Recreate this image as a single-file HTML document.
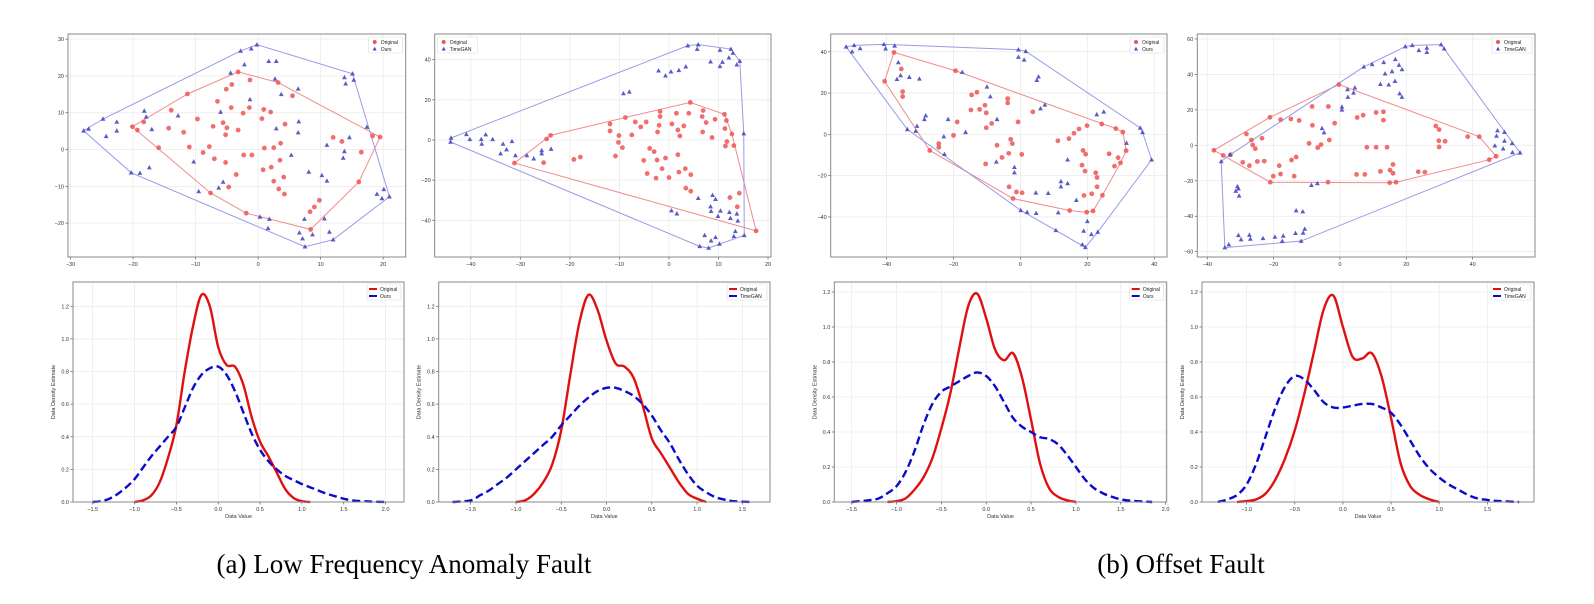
<!DOCTYPE html>
<html><head><meta charset="utf-8"><style>
html,body{margin:0;padding:0;background:#fff;}
svg{display:block;}
text{font-family:"Liberation Sans",sans-serif;}
</style></head>
<body>
<svg id="fig" width="1594" height="604" viewBox="0 0 1594 604" xmlns="http://www.w3.org/2000/svg">
<text x="404" y="573" text-anchor="middle" style="font-family:'Liberation Serif',serif;font-size:27px" fill="#000">(a) Low Frequency Anomaly Fault</text>
<text x="1181" y="573" text-anchor="middle" style="font-family:'Liberation Serif',serif;font-size:27px" fill="#000">(b) Offset Fault</text>
</svg>
<script>
// ---------- Scatter data (t-SNE style) ----------
const p1OrigX=[-3.2,-1.3,3.2,5.5,-11.3,-13.9,-20.1,-19.3,-18.3,-5.1,-4.2,-6.5,-4.3,-1.4,-2.4,0.9,2.0,-9.7,-5.6,-7.2,-14.3,-11.9,-5.0,-3.2,0.6,4.3,-15.9,-11.0,-7.8,-8.8,-7.0,-5.2,-5.2,-2.3,-1.0,1.0,2.5,3.6,3.5,0.8,2.1,2.5,4.1,3.3,4.2,-4.7,-3.5,-7.6,-1.9,12.0,13.4,16.5,18.3,19.5,16.1,9.8,9.0,8.3,8.4];
const p1OrigY=[21.1,18.9,18.2,14.6,15.1,10.7,6.2,5.3,7.5,16.4,17.7,13.1,11.4,11.4,9.9,10.9,10.2,8.3,7.3,6.3,5.8,4.7,5.9,5.3,8.4,6.9,0.5,0.7,0.8,-0.8,-2.5,4.0,-3.5,-1.5,-1.5,0.4,0.5,1.7,-2.9,-5.5,-4.8,-8.6,-7.5,-10.7,-12.1,-10.2,-6.8,-11.8,-17.3,3.3,2.2,-0.7,3.7,3.4,-8.8,-13.8,-15.6,-16.9,-21.7];
const p1GenX=[-0.2,-1.1,-2.8,-2.2,-4.4,1.7,2.9,2.7,3.7,6.4,6.5,6.4,2.9,15.1,13.8,14.0,15.3,17.4,14.6,11.0,13.8,13.6,5.3,8.1,10.2,11.0,19.0,20.1,19.8,21.0,-1.3,-6.0,-12.8,-17.9,-18.2,-22.6,-22.6,-24.8,-27.1,-27.9,-24.3,-17.0,-10.3,-9.5,-17.4,-20.3,-18.9,-5.6,-6.3,1.8,0.3,1.6,7.4,6.6,7.1,8.7,7.5,10.6,11.4,12.0];
const p1GenY=[28.5,27.4,26.8,23.1,20.8,24.0,24.0,19.2,15.0,16.5,7.6,4.6,5.7,20.6,19.6,17.9,18.9,6.1,3.3,1.2,-0.5,-2.3,-1.5,-6.1,-7.0,-8.5,-12.1,-10.8,-13.3,-12.8,13.6,10.2,9.2,8.9,10.5,7.5,5.1,8.3,5.6,5.1,3.6,5.5,-3.3,-11.4,-4.9,-6.3,-6.4,-8.8,-10.4,-18.9,-18.3,-21.4,-18.9,-22.6,-24.2,-23.1,-26.4,-18.8,-22.4,-24.5];

const p2OrigX=[4.3,11.2,11.6,12.7,13.1,11.4,11.7,11.3,9.3,7.5,6.7,6.9,4.0,1.5,0.6,3.0,1.8,2.2,6.8,8.7,-1.8,-1.8,-2.0,-2.3,-8.8,-6.8,-7.5,-5.7,-4.6,-11.9,-11.9,-10.1,-10.2,-9.4,-10.8,-3.9,-3.0,-5.1,-2.4,-0.7,1.8,-4.4,-2.6,-1.4,0.0,2.0,3.3,4.4,3.4,4.4,12.3,14.2,13.8,17.6,-17.9,-19.2,-23.9,-24.7,-25.3,-31.2];
const p2OrigY=[18.7,12.8,9.7,3.0,-2.8,-3.0,-0.8,5.7,10.3,8.7,11.7,14.7,13.3,13.3,8.0,7.0,5.0,2.0,4.0,1.2,14.2,11.7,7.3,4.0,11.2,9.0,2.5,6.5,9.0,8.0,4.5,2.2,-1.2,-3.8,-8.0,-4.2,-5.8,-10.2,-10.0,-9.0,-7.3,-16.7,-19.0,-14.3,-18.7,-16.0,-14.3,-17.3,-24.0,-25.5,-28.7,-26.5,-33.3,-45.3,-8.5,-9.7,2.3,0.5,-11.3,-11.5];
const p2GenX=[3.8,5.9,5.7,10.3,12.5,12.9,12.1,14.3,13.7,10.8,10.3,8.4,3.4,2.0,0.4,-0.7,-2.1,-8.0,-9.2,15.1,15.2,13.4,13.1,10.2,9.4,8.5,7.2,6.2,8.0,13.7,13.9,12.4,10.4,9.9,8.5,8.4,9.4,8.8,12.2,5.9,1.6,0.5,-40.9,-40.2,-44.0,-44.1,-37.9,-37.0,-35.6,-37.8,-33.5,-34.0,-32.8,-31.7,-31.0,-28.7,-27.3,-25.7,-25.7,-23.8];
const p2GenY=[47.0,47.5,45.3,44.8,45.3,43.3,41.0,39.3,37.5,38.8,36.7,39.0,36.5,34.7,34.0,32.0,34.5,24.0,23.2,3.2,-47.5,-45.5,-48.0,-51.8,-48.5,-50.2,-47.5,-53.0,-53.8,-36.8,-40.3,-39.0,-35.3,-38.0,-35.5,-33.2,-29.5,-27.5,-36.0,-29.0,-36.7,-35.2,2.8,0.3,1.0,-1.0,0.3,2.7,0.3,-2.0,-2.0,-6.8,-4.8,-0.7,-7.7,-7.7,-9.3,-5.2,-6.8,-4.5];

const p3OrigX=[-37.8,-40.6,-35.6,-35.2,-35.2,-19.4,-14.6,-13.0,-14.8,-12.2,-10.6,-10.2,-8.6,-10.2,-18.9,-20.0,-24.4,-24.4,-27.1,-10.4,-7.0,-3.8,-3.8,-2.9,-2.4,-0.7,-3.5,-5.5,0.4,-3.4,-1.2,0.5,-2.2,3.7,11.2,14.5,16.0,17.5,19.9,24.3,28.5,30.6,31.6,29.9,29.2,28.1,26.5,18.7,19.5,18.4,19.3,22.5,22.9,22.9,24.5,21.3,19.0,19.8,21.7,14.7];
const p3OrigY=[39.7,25.7,31.7,20.7,18.3,30.8,19.1,20.4,11.8,12.1,14.1,10.4,5.3,3.2,6.0,-0.5,-4.5,-6.3,-7.8,-14.3,-5.3,17.3,15.2,-2.4,-4.5,6.0,-9.2,-11.2,-9.7,-25.4,-27.9,-28.3,-31.1,10.9,-3.1,-2.1,0.5,2.6,4.2,5.0,2.8,1.1,-7.9,-13.8,-11.3,-15.4,-9.4,-7.8,-9.6,-14.9,-17.8,-18.6,-20.9,-25.4,-29.5,-28.8,-29.6,-37.7,-37.1,-36.9];
const p3GenX=[-52.1,-49.7,-47.9,-50.3,-40.8,-40.3,-37.6,-36.5,-35.8,-36.9,-33.2,-30.2,-0.6,1.6,-0.6,1.1,5.4,4.9,-17.4,-10.0,-9.0,-7.0,7.3,6.0,22.8,24.9,35.8,36.5,31.7,39.2,-21.6,-28.7,-28.3,-30.9,-31.3,-33.8,-22.9,-16.4,-22.7,-7.2,-1.8,-1.8,12.1,14.1,12.1,14.1,4.6,8.3,16.7,0.1,2.0,4.7,11.3,10.6,20.0,18.9,23.1,21.2,18.5,19.4];
const p3GenY=[42.4,43.1,41.6,40.0,43.6,41.5,42.9,34.8,28.5,26.7,27.7,26.9,41.0,40.2,37.4,36.1,27.9,26.2,30.1,23.0,18.3,7.3,14.3,12.5,9.6,10.9,3.1,1.0,-4.2,-12.3,7.3,7.3,9.1,4.0,1.6,2.4,-1.1,1.0,-9.6,-13.3,-15.9,-18.5,-22.8,-23.8,-25.3,-12.3,-28.3,-28.5,-31.9,-36.8,-37.7,-38.2,-37.9,-46.5,-42.1,-46.8,-47.3,-48.4,-53.4,-54.7];

const p4OrigX=[-0.3,-8.4,-3.5,-21.1,-17.9,-14.8,-12.3,-8.3,-1.6,5.2,7.0,10.9,13.1,13.1,-28.2,-26.7,-26.3,-25.5,-23.5,-38.0,-35.2,-33.0,-29.3,-27.3,-24.9,-22.8,-9.3,-6.7,-5.7,-3.2,-14.6,-13.2,-18.3,-17.9,-20.1,-21.0,-13.8,-3.6,5.0,7.5,8.1,10.9,14.2,12.2,15.1,16.0,16.0,15.0,16.9,23.6,25.6,28.9,29.9,29.8,29.9,31.7,38.5,42.0,45.0,47.1];
const p4OrigY=[34.3,21.9,21.9,15.8,14.5,14.9,14.0,11.3,12.5,15.7,17.0,18.5,18.9,14.2,6.4,3.0,0.2,-1.9,4.0,-2.8,-5.7,-5.3,-9.6,-11.5,-9.1,-8.9,1.1,-1.3,0.4,3.0,-8.3,-6.6,-11.5,-16.2,-17.4,-20.8,-17.4,-20.8,-16.4,-16.4,-1.1,-1.1,-1.1,-14.7,-14.0,-10.8,-15.8,-21.1,-20.8,-14.9,-15.1,10.9,8.9,2.6,-0.9,2.3,4.9,4.9,-8.1,-6.2];
const p4GenX=[19.7,21.8,23.8,26.2,26.2,30.5,31.4,7.2,9.7,13.2,16.7,17.8,18.7,15.7,13.6,12.2,14.7,16.6,18.0,18.7,2.3,4.5,4.1,2.4,0.6,0.6,-5.4,-4.8,47.5,47.2,49.6,46.7,49.6,51.9,49.2,52.0,54.3,-35.8,-33.1,-30.6,-31.4,-30.4,-30.9,-13.2,-11.2,-8.6,-6.8,-30.6,-29.8,-27.3,-27.0,-23.2,-19.6,-17.1,-17.4,-13.4,-11.1,-10.6,-11.7,-34.7,-33.5];
const p4GenY=[55.7,56.4,53.6,54.9,52.5,56.8,54.5,44.3,45.7,46.8,48.5,45.3,42.8,41.7,40.4,34.5,34.2,36.2,29.2,27.2,31.5,32.5,29.6,27.2,21.7,20.0,9.6,7.2,8.3,5.3,7.4,-0.2,2.5,1.1,-1.9,-4.0,-4.2,-9.1,-5.3,-24.5,-25.8,-28.5,-23.2,-36.8,-37.4,-22.5,-21.5,-50.8,-53.2,-50.6,-52.8,-52.5,-51.7,-51.1,-54.0,-49.6,-49.4,-47.2,-54.0,-57.7,-56.0];

// ---------- Scatter tick labels ----------
const p1XTicks=[-30,-20,-10,0,10,20], p1YTicks=[-20,-10,0,10,20,30];
const p2XTicks=[-40,-30,-20,-10,0,10,20], p2YTicks=[-40,-20,0,20,40];
const p3XTicks=[-40,-20,0,20,40], p3YTicks=[-40,-20,0,20,40];
const p4XTicks=[-40,-20,0,20,40], p4YTicks=[-60,-40,-20,0,20,40,60];

// ---------- KDE data ----------
const k1OrigX=[-1.0,-0.9,-0.8,-0.7,-0.6,-0.5,-0.4,-0.3,-0.2,-0.1,0.0,0.1,0.2,0.3,0.4,0.5,0.6,0.7,0.8,0.9,1.0,1.1];
const k1OrigY=[0.0,0.01,0.04,0.12,0.27,0.47,0.80,1.08,1.27,1.20,0.95,0.84,0.83,0.72,0.52,0.37,0.28,0.18,0.08,0.025,0.005,0.0];
const k1GenX=[-1.5,-1.4,-1.3,-1.2,-1.1,-1.0,-0.9,-0.8,-0.7,-0.6,-0.5,-0.4,-0.3,-0.2,-0.1,0.0,0.1,0.2,0.3,0.4,0.5,0.6,0.7,0.8,0.9,1.0,1.1,1.2,1.3,1.4,1.5,1.6,1.8,2.0];
const k1GenY=[0.0,0.005,0.02,0.05,0.09,0.14,0.21,0.28,0.34,0.40,0.46,0.58,0.70,0.78,0.82,0.83,0.78,0.68,0.55,0.42,0.32,0.25,0.20,0.16,0.135,0.11,0.09,0.07,0.05,0.035,0.02,0.01,0.003,0.0];
const k2OrigX=k1OrigX;
const k2OrigY=[0.0,0.01,0.05,0.12,0.23,0.44,0.78,1.10,1.27,1.18,0.99,0.85,0.83,0.76,0.59,0.39,0.30,0.21,0.12,0.05,0.02,0.0];
const k2GenX=[-1.7,-1.5,-1.4,-1.3,-1.2,-1.1,-1.0,-0.9,-0.8,-0.7,-0.6,-0.5,-0.4,-0.3,-0.2,-0.1,0.0,0.1,0.2,0.3,0.4,0.5,0.6,0.7,0.8,0.9,1.0,1.1,1.2,1.3,1.4,1.6];
const k2GenY=[0.0,0.01,0.04,0.07,0.11,0.15,0.20,0.25,0.30,0.35,0.40,0.47,0.53,0.59,0.64,0.68,0.70,0.70,0.68,0.65,0.60,0.53,0.44,0.36,0.26,0.17,0.10,0.06,0.03,0.015,0.005,0.0];
const k3OrigX=[-1.1,-1.0,-0.9,-0.8,-0.7,-0.6,-0.5,-0.4,-0.3,-0.2,-0.1,0.0,0.1,0.2,0.3,0.4,0.5,0.6,0.7,0.8,0.9,1.0];
const k3OrigY=[0.0,0.005,0.02,0.07,0.14,0.25,0.42,0.62,0.88,1.12,1.19,1.05,0.87,0.81,0.85,0.71,0.47,0.22,0.08,0.03,0.01,0.0];
const k3GenX=[-1.5,-1.4,-1.3,-1.2,-1.1,-1.0,-0.9,-0.8,-0.7,-0.6,-0.5,-0.4,-0.3,-0.2,-0.1,0.0,0.1,0.2,0.3,0.4,0.5,0.6,0.7,0.8,0.9,1.0,1.1,1.2,1.3,1.4,1.5,1.6,1.7,1.85];
const k3GenY=[0.0,0.005,0.01,0.02,0.05,0.09,0.17,0.29,0.44,0.56,0.63,0.66,0.69,0.72,0.74,0.72,0.66,0.57,0.48,0.43,0.40,0.37,0.36,0.33,0.27,0.20,0.13,0.08,0.05,0.03,0.015,0.008,0.004,0.0];
const k4OrigX=k3OrigX;
const k4OrigY=[0.0,0.005,0.015,0.05,0.13,0.25,0.41,0.62,0.86,1.10,1.18,1.00,0.83,0.82,0.85,0.72,0.48,0.22,0.09,0.04,0.015,0.0];
const k4GenX=[-1.3,-1.2,-1.1,-1.0,-0.9,-0.8,-0.7,-0.6,-0.5,-0.4,-0.3,-0.2,-0.1,0.0,0.1,0.2,0.3,0.4,0.5,0.6,0.7,0.8,0.9,1.0,1.1,1.2,1.3,1.4,1.5,1.6,1.83];
const k4GenY=[0.0,0.015,0.04,0.10,0.22,0.38,0.54,0.66,0.72,0.70,0.64,0.57,0.54,0.54,0.55,0.56,0.56,0.54,0.51,0.44,0.35,0.26,0.19,0.14,0.10,0.07,0.04,0.02,0.012,0.006,0.0];
const kYTicks=[0.0,0.2,0.4,0.6,0.8,1.0,1.2];
const k1XTicks=[-1.5,-1.0,-0.5,0.0,0.5,1.0,1.5,2.0];
const k2XTicks=[-1.5,-1.0,-0.5,0.0,0.5,1.0,1.5];
const k3XTicks=[-1.5,-1.0,-0.5,0.0,0.5,1.0,1.5,2.0];
const k4XTicks=[-1.0,-0.5,0.0,0.5,1.0,1.5];

const NS='http://www.w3.org/2000/svg';
const fig=document.getElementById('fig');
function mk(tag,attrs,parent){const e=document.createElementNS(NS,tag);for(const k in attrs)e.setAttribute(k,attrs[k]);(parent||fig).appendChild(e);return e;}
function fmt(v,dec){const s=v.toFixed(dec);return v<0?'\u2212'+s.slice(1):s;}

function axesFrame(name,L,R,T,B,xmin,xmax,ymin,ymax,xt,yt,dec){
  const g=mk('g',{});
  
  
  const sx=v=>L+(v-xmin)/(xmax-xmin)*(R-L);
  const sy=v=>B-(v-ymin)/(ymax-ymin)*(B-T);
  xt.forEach(v=>{
    mk('line',{x1:sx(v),x2:sx(v),y1:T,y2:B,stroke:'#ebebeb','stroke-width':0.8},g);
    mk('line',{x1:sx(v),x2:sx(v),y1:B,y2:B+2.5,stroke:'#555','stroke-width':0.7},g);
    const t=mk('text',{x:sx(v),y:B+9,'text-anchor':'middle','font-size':5.5,fill:'#333'},g);
    t.textContent=fmt(v,dec);
    
    
  });
  yt.forEach(v=>{
    mk('line',{x1:L,x2:R,y1:sy(v),y2:sy(v),stroke:'#ebebeb','stroke-width':0.8},g);
    mk('line',{x1:L-2.5,x2:L,y1:sy(v),y2:sy(v),stroke:'#555','stroke-width':0.7},g);
    const t=mk('text',{x:L-4,y:sy(v)+2,'text-anchor':'end','font-size':5.5,fill:'#333'},g);
    t.textContent=fmt(v,dec===0?0:1);
    
    
  });
  return {g,sx,sy};
}
function frameRect(g,L,R,T,B){mk('rect',{x:L,y:T,width:R-L,height:B-T,fill:'none',stroke:'#888','stroke-width':1},g);}

function hull(xs,ys){
  const pts=xs.map((x,i)=>[x,ys[i]]).sort((a,b)=>a[0]-b[0]||a[1]-b[1]);
  const cr=(o,a,b)=>(a[0]-o[0])*(b[1]-o[1])-(a[1]-o[1])*(b[0]-o[0]);
  const lo=[],up=[];
  for(const p of pts){while(lo.length>=2&&cr(lo[lo.length-2],lo[lo.length-1],p)<=0)lo.pop();lo.push(p);}
  for(let i=pts.length-1;i>=0;i--){const p=pts[i];while(up.length>=2&&cr(up[up.length-2],up[up.length-1],p)<=0)up.pop();up.push(p);}
  up.pop();lo.pop();return lo.concat(up);
}

function scatterPanel(name,L,R,T,B,xr,yr,xt,yt,ox,oy,gx,gy,genName,legendLeft){
  const a=axesFrame(name,L,R,T,B,xr[0],xr[1],yr[0],yr[1],xt,yt,0);
  const g=a.g;
  const hO=hull(ox,oy), hG=hull(gx,gy);
  const ph=mk('polygon',{points:hO.map(p=>a.sx(p[0])+','+a.sy(p[1])).join(' '),fill:'none',stroke:'#f08c8c','stroke-width':1},g);
  
  
  const gh=mk('polygon',{points:hG.map(p=>a.sx(p[0])+','+a.sy(p[1])).join(' '),fill:'none',stroke:'#9a9ae6','stroke-width':1},g);
  
  
  ox.forEach((x,i)=>{
    const c=mk('circle',{cx:a.sx(x),cy:a.sy(oy[i]),r:2.4,fill:'#ee5555','fill-opacity':0.85},g);
    
    
  });
  gx.forEach((x,i)=>{
    const X=a.sx(x),Y=a.sy(gy[i]);
    const p=mk('polygon',{points:`${X},${Y-2.6} ${X-2.4},${Y+1.8} ${X+2.4},${Y+1.8}`,fill:'#4a4ac0','fill-opacity':0.9},g);
    
    
  });
  frameRect(g,L,R,T,B);
  const lw=genName.length>5?40:34;
  const lx=legendLeft?L+3:R-lw-3, ly=T+3;
  const lg=mk('g',{},g);
  
  
  mk('rect',{x:lx,y:ly,width:lw,height:16,fill:'#fff','fill-opacity':0.85,stroke:'#ddd','stroke-width':0.6,rx:1},lg);
  mk('circle',{cx:lx+6,cy:ly+5,r:2,fill:'#ee5555'},lg);
  const X=lx+6,Y=ly+12;
  mk('polygon',{points:`${X},${Y-2.2} ${X-2},${Y+1.5} ${X+2},${Y+1.5}`,fill:'#4a4ac0'},lg);
  const t1=mk('text',{x:lx+12,y:ly+7,'font-size':5,fill:'#222'},lg);t1.textContent='Original';
  
  
  const t2=mk('text',{x:lx+12,y:ly+14,'font-size':5,fill:'#222'},lg);t2.textContent=genName;
  
  
}

function kdePanel(name,L,R,T,B,xr,yr,xt,ox,oy,gx,gy,genName){
  const a=axesFrame(name,L,R,T,B,xr[0],xr[1],yr[0],yr[1],xt,kYTicks,1);
  const g=a.g;
  function path(xs,ys){
    const P=xs.map((x,i)=>[a.sx(x),a.sy(ys[i])]);
    let d='M'+P[0][0]+','+P[0][1];
    for(let i=0;i<P.length-1;i++){
      const p0=P[Math.max(0,i-1)],p1=P[i],p2=P[i+1],p3=P[Math.min(P.length-1,i+2)];
      const c1=[p1[0]+(p2[0]-p0[0])/6,p1[1]+(p2[1]-p0[1])/6];
      const c2=[p2[0]-(p3[0]-p1[0])/6,p2[1]-(p3[1]-p1[1])/6];
      d+=` C${c1[0]},${c1[1]} ${c2[0]},${c2[1]} ${p2[0]},${p2[1]}`;
    }
    return d;
  }
  const r=mk('path',{d:path(ox,oy),fill:'none',stroke:'#e01010','stroke-width':2.4},g);
  
  
  const b=mk('path',{d:path(gx,gy),fill:'none',stroke:'#0a0acc','stroke-width':2.4,'stroke-dasharray':'8,4'},g);
  
  
  frameRect(g,L,R,T,B);
  const xl=mk('text',{x:(L+R)/2,y:B+16,'text-anchor':'middle','font-size':5.5,fill:'#333'},g);
  xl.textContent='Data Value';
  
  
  const yl=mk('text',{x:0,y:0,'text-anchor':'middle','font-size':5.5,fill:'#333',transform:`translate(${L-18},${(T+B)/2}) rotate(-90)`},g);
  yl.textContent='Data Density Estimate';
  
  
  const lw=genName.length>5?40:34;
  const lx=R-lw-3, ly=T+2;
  const lg=mk('g',{},g);
  
  
  mk('rect',{x:lx,y:ly,width:lw,height:16,fill:'#fff','fill-opacity':0.85,stroke:'#ddd','stroke-width':0.6,rx:1},lg);
  mk('line',{x1:lx+2,x2:lx+10,y1:ly+5,y2:ly+5,stroke:'#e01010','stroke-width':2},lg);
  mk('line',{x1:lx+2,x2:lx+10,y1:ly+12,y2:ly+12,stroke:'#0a0acc','stroke-width':2},lg);
  const t1=mk('text',{x:lx+13,y:ly+7,'font-size':5,fill:'#222'},lg);t1.textContent='Original';
  
  
  const t2=mk('text',{x:lx+13,y:ly+14,'font-size':5,fill:'#222'},lg);t2.textContent=genName;
  
  
}

scatterPanel('scatter-lfa-ours',68,405.7,34,257,[-30.4,23.6],[-29.2,31.4],p1XTicks,p1YTicks,p1OrigX,p1OrigY,p1GenX,p1GenY,'Ours',false);
scatterPanel('scatter-lfa-timegan',434.7,771,34,257,[-47.3,20.6],[-58.3,52.8],p2XTicks,p2YTicks,p2OrigX,p2OrigY,p2GenX,p2GenY,'TimeGAN',true);
scatterPanel('scatter-offset-ours',830.7,1167,34,257,[-56.7,43.8],[-59.4,48.6],p3XTicks,p3YTicks,p3OrigX,p3OrigY,p3GenX,p3GenY,'Ours',false);
scatterPanel('scatter-offset-timegan',1197.3,1535,34,257,[-43.0,58.8],[-63.0,62.8],p4XTicks,p4YTicks,p4OrigX,p4OrigY,p4GenX,p4GenY,'TimeGAN',false);

kdePanel('kde-lfa-ours',73,404,282,502,[-1.735,2.22],[0,1.349],k1XTicks,k1OrigX,k1OrigY,k1GenX,k1GenY,'Ours');
kdePanel('kde-lfa-timegan',438.7,770,282,502,[-1.853,1.805],[0,1.349],k2XTicks,k2OrigX,k2OrigY,k2GenX,k2GenY,'TimeGAN');
kdePanel('kde-offset-ours',834.3,1166.7,282,502,[-1.693,2.012],[0,1.257],k3XTicks,k3OrigX,k3OrigY,k3GenX,k3GenY,'Ours');
kdePanel('kde-offset-timegan',1202,1534,282,502,[-1.464,1.985],[0,1.257],k4XTicks,k4OrigX,k4OrigY,k4GenX,k4GenY,'TimeGAN');
</script>
</body></html>
